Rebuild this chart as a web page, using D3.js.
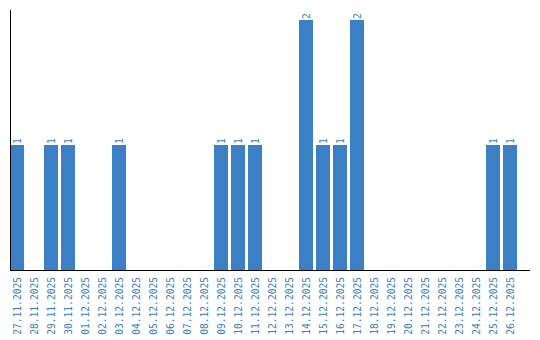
<!DOCTYPE html>
<html>
<head>
<meta charset="utf-8">
<script src="https://cdn.jsdelivr.net/npm/d3@7"></script>
<style>
  body { margin: 0; background: #fff; }
  text { font-family: "DejaVu Sans Mono", monospace; }
</style>
</head>
<body>
<div id="chart"></div>
<script>
// dates and counts
var dates = ["27.11.2025", "28.11.2025", "29.11.2025", "30.11.2025", "01.12.2025", "02.12.2025",
    "03.12.2025", "04.12.2025", "05.12.2025", "06.12.2025", "07.12.2025", "08.12.2025",
    "09.12.2025", "10.12.2025", "11.12.2025", "12.12.2025", "13.12.2025", "14.12.2025",
    "15.12.2025", "16.12.2025", "17.12.2025", "18.12.2025", "19.12.2025", "20.12.2025",
    "21.12.2025", "22.12.2025", "23.12.2025", "24.12.2025", "25.12.2025", "26.12.2025"];
var counts = [1, 0, 1, 1, 0, 0, 1, 0, 0, 0, 0, 0, 1, 1, 1, 0, 0, 2, 1, 1, 2, 0, 0, 0, 0, 0, 0, 0, 1, 1];

var data = dates.map(function (d, i) { return { date: d, count: counts[i] }; });

const width = 540;
const height = 340;
const barColor = "#3b80c4";
const textColor = "#3a7fc1";

const svg = d3.select("#chart").append("svg")
    .attr("width", width)
    .attr("height", height);

const xScale = d3.scaleBand()
    .domain(dates)
    .range([10, 517])
    .paddingInner(3 / 17)
    .paddingOuter(0);

const yScale = d3.scaleLinear()
    .domain([0, 2])
    .range([270, 20]);

// bars
svg.selectAll(".bar")
    .data(data.filter(d => d.count > 0))
    .join("rect")
    .attr("class", "bar")
    .attr("x", d => xScale(d.date))
    .attr("y", d => yScale(d.count))
    .attr("width", xScale.bandwidth())
    .attr("height", d => yScale(0) - yScale(d.count))
    .attr("fill", barColor);

// value labels
svg.selectAll(".value")
    .data(data.filter(d => d.count > 0))
    .join("text")
    .attr("class", "value")
    .attr("transform", d => "translate(" + (xScale(d.date) + xScale.bandwidth() / 2 + 3.5) + "," + (yScale(d.count) - 1) + ") rotate(-90)")
    .attr("text-anchor", "start")
    .style("font-size", "9.6px")
    .attr("fill", textColor)
    .text(d => d.count);

// axes lines
svg.append("line")
    .attr("x1", 10.5).attr("x2", 10.5)
    .attr("y1", 10).attr("y2", 270)
    .attr("stroke", "#000");

svg.append("line")
    .attr("x1", 10).attr("x2", 530)
    .attr("y1", 270.5).attr("y2", 270.5)
    .attr("stroke", "#000");

// date labels
svg.selectAll(".tick-label")
    .data(dates)
    .join("text")
    .attr("class", "tick-label")
    .attr("transform", d => "translate(" + (xScale(d) + xScale.bandwidth() / 2 + 3.5) + ",277) rotate(-90)")
    .attr("text-anchor", "end")
    .style("font-size", "9.6px")
    .attr("fill", textColor)
    .text(d => d);
</script>
</body>
</html>
